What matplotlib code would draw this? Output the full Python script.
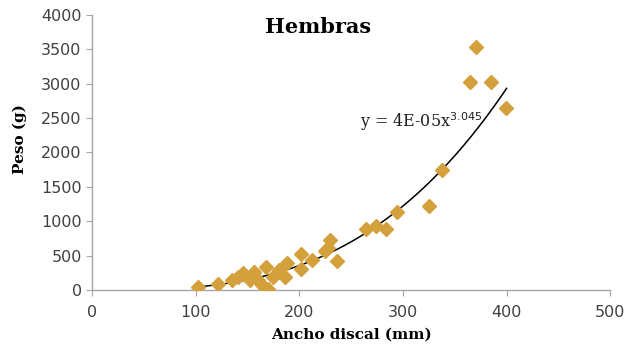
import matplotlib
matplotlib.use("Agg")
import matplotlib.pyplot as plt
import numpy as np

# --- data ---
ancho = [102, 122, 135, 141, 146, 152, 156, 160, 164, 168, 170, 175, 180,
         186, 188, 202, 202, 212, 225, 228, 230, 236, 264, 274, 284, 294,
         325, 338, 365, 370, 385, 399]
peso = [50, 90, 145, 190, 240, 145, 265, 145, 70, 340, 20, 190, 290,
        190, 390, 530, 300, 430, 560, 610, 720, 415, 880, 930, 890, 1140,
        1220, 1750, 3020, 3530, 3020, 2640]

# power trendline (label says 4E-05, unrounded coefficient ~3.5e-5)
coef_a = 3.5e-5
coef_b = 3.045
x_fit = np.linspace(100, 400, 200)
y_fit = coef_a * x_fit ** coef_b

GOLD = "#D4A03C"
AXIS = "#A6A6A6"
TICK_TXT = "#404040"

fig = plt.figure(figsize=(6.37, 3.57), dpi=100)
ax = fig.add_axes([0.1445, 0.1877, 0.8135, 0.7703])

ax.plot(x_fit, y_fit, color="black", lw=1.1, zorder=2)
ax.plot(ancho, peso, linestyle="none", marker="D", ms=7,
        color=GOLD, mec=GOLD, zorder=3)

ax.set_xlim(0, 500)
ax.set_ylim(0, 4000)
ax.set_xticks(range(0, 501, 100))
ax.set_yticks(range(0, 4001, 500))

for s in ("top", "right"):
    ax.spines[s].set_visible(False)
for s in ("left", "bottom"):
    ax.spines[s].set_color(AXIS)
    ax.spines[s].set_linewidth(1.0)
ax.tick_params(direction="out", length=4, color=AXIS, labelsize=11.5,
               labelcolor=TICK_TXT)
ax.tick_params(axis="x", pad=7)

ax.set_xlabel("Ancho discal (mm)", family="DejaVu Serif", weight="bold",
              fontsize=11, labelpad=5)
ax.set_ylabel("Peso (g)", family="DejaVu Serif", weight="bold",
              fontsize=11)
ax.yaxis.set_label_coords(-0.125, 0.55)

fig.text(0.5, 0.925, "Hembras", family="DejaVu Serif", weight="bold",
         fontsize=15, ha="center", va="center")
ax.text(259, 2450, r"y = 4E-05x$^{3.045}$", family="DejaVu Serif",
        fontsize=11.5, color="#202020", ha="left", va="center")

fig.savefig("out.png", dpi=100, facecolor="white")
